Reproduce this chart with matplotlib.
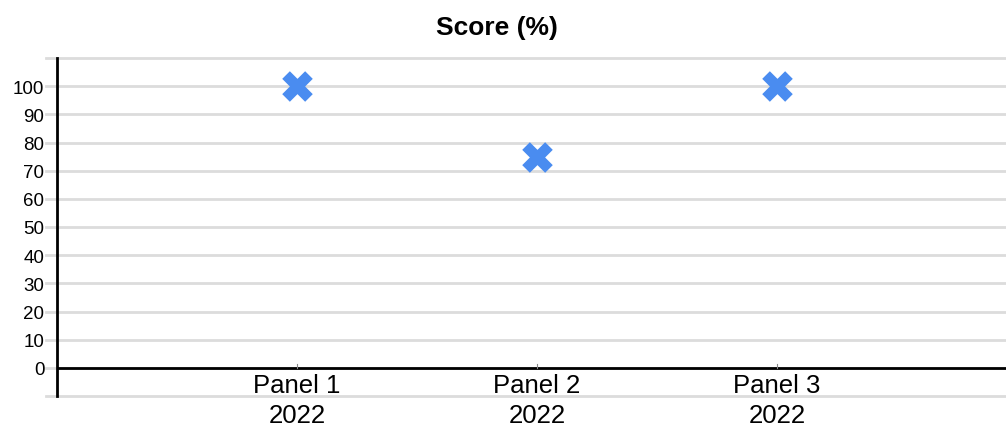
import matplotlib.pyplot as plt

# Chart data
categories = ['Panel 1\n2022', 'Panel 2\n2022', 'Panel 3\n2022']
scores = [100, 75, 100]
y_ticks = [0, 10, 20, 30, 40, 50, 60, 70, 80, 90, 100]

plt.rcParams['font.family'] = ['Liberation Sans', 'DejaVu Sans']

fig = plt.figure(figsize=(10.06, 4.27), dpi=100)
ax = fig.add_axes([57 / 1006, 30 / 427, 1 - 57 / 1006, 338 / 427])

x_pos = list(range(1, len(categories) + 1))
ax.scatter(x_pos, scores, marker='X', s=22 ** 2, color='#4a8cf0',
           linewidths=0, zorder=3, clip_on=False)

ax.set_xlim(0, 3.954)
ax.set_ylim(-10, 110)

# Horizontal gridlines, extending a little left of the axis
for y in range(-10, 120, 10):
    ax.axhline(y, xmin=-11 / 949, xmax=1, color='#dcdcdc', lw=2,
               zorder=0, clip_on=False)
ax.axhline(0, color='black', lw=2, zorder=2)

ax.set_yticks(y_ticks)
ax.set_yticklabels([str(v) for v in y_ticks], fontsize=13.5)
ax.tick_params(axis='y', length=0, pad=9)

# Category labels sit just below the zero line
ax.set_xticks([])
for xp, label in zip(x_pos, categories):
    ax.annotate(label, xy=(xp, 0), xytext=(0, -4), textcoords='offset points',
                ha='center', va='top', fontsize=18.5, linespacing=1.3,
                annotation_clip=False)
    ax.plot([xp, xp], [0, 1.2], color='#888888', lw=0.8, zorder=2)

for side in ['top', 'right', 'bottom']:
    ax.spines[side].set_visible(False)
ax.spines['left'].set_linewidth(2)
ax.spines['left'].set_color('black')

fig.text(0.494, 1 - 28 / 427, 'Score (%)', ha='center', va='center',
         fontsize=19, fontweight='bold')

fig.savefig('out.png', dpi=100)
